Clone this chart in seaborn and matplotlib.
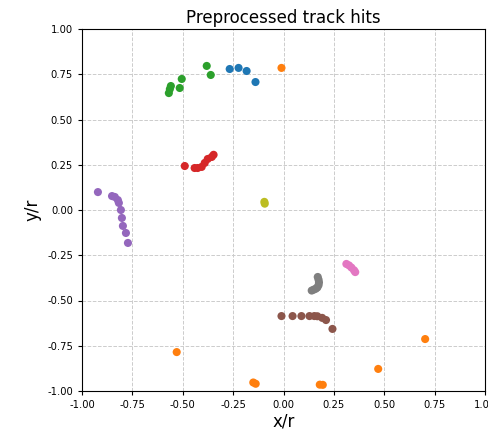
import numpy as np
import pandas as pd
import seaborn as sns
import matplotlib.pyplot as plt

# hit positions per track (x/r, y/r)
track_0_x = [-0.267, -0.223, -0.183, -0.139]
track_0_y = [0.779, 0.785, 0.768, 0.707]
track_1_x = [-0.010, -0.530, -0.150, -0.138, 0.180, 0.195, 0.470, 0.703]
track_1_y = [0.785, -0.785, -0.953, -0.960, -0.965, -0.966, -0.878, -0.713]
track_2_x = [-0.381, -0.361, -0.505, -0.515, -0.559, -0.569, -0.564]
track_2_y = [0.796, 0.746, 0.724, 0.674, 0.685, 0.646, 0.668]
track_3_x = [-0.490, -0.441, -0.426, -0.406, -0.391, -0.376, -0.356, -0.347]
track_3_y = [0.243, 0.232, 0.232, 0.238, 0.260, 0.282, 0.293, 0.305]
track_4_x = [-0.921, -0.851, -0.837, -0.822, -0.817, -0.807, -0.802, -0.797, -0.782, -0.772]
track_4_y = [0.099, 0.077, 0.072, 0.055, 0.039, 0.000, -0.044, -0.088, -0.127, -0.182]
track_5_x = [-0.010, 0.045, 0.089, 0.129, 0.153, 0.168, 0.192, 0.211, 0.243]
track_5_y = [-0.586, -0.586, -0.586, -0.586, -0.586, -0.587, -0.596, -0.608, -0.657]
track_6_x = [0.312, 0.325, 0.337, 0.350, 0.356]
track_6_y = [-0.298, -0.306, -0.318, -0.333, -0.343]
track_7_x = [0.140, 0.150, 0.160, 0.168, 0.174, 0.176, 0.174, 0.170]
track_7_y = [-0.445, -0.440, -0.435, -0.428, -0.415, -0.400, -0.385, -0.370]
track_8_x = [-0.095, -0.093]
track_8_y = [0.045, 0.035]

xs = [track_0_x, track_1_x, track_2_x, track_3_x, track_4_x,
      track_5_x, track_6_x, track_7_x, track_8_x]
ys = [track_0_y, track_1_y, track_2_y, track_3_y, track_4_y,
      track_5_y, track_6_y, track_7_y, track_8_y]

rows = []
for i in range(len(xs)):
    for x, y in zip(xs[i], ys[i]):
        rows.append((i, x, y))
df = pd.DataFrame(rows, columns=["track", "x", "y"])

fig = plt.figure(figsize=(4.88, 4.30), dpi=100)
ax = fig.add_axes([82 / 488, 1 - 391 / 430, 403 / 488, 362 / 430])

sns.scatterplot(data=df, x="x", y="y", hue="track", hue_order=list(range(9)),
                palette="tab10", s=34, linewidth=0, legend=False, ax=ax, zorder=3)

ticks = np.arange(-1, 1.01, 0.25)
ax.set_xlim(-1, 1)
ax.set_ylim(-1, 1)
ax.set_xticks(ticks)
ax.set_yticks(ticks)
ax.set_xticklabels(["%.2f" % v for v in ticks])
ax.set_yticklabels(["%.2f" % v for v in ticks])
ax.tick_params(labelsize=7.2, length=3)
ax.grid(True, linestyle="--", color="#cccccc", linewidth=0.7)
ax.set_axisbelow(True)
ax.set_xlabel("x/r", fontsize=12, labelpad=2)
ax.set_ylabel("y/r", fontsize=12)
ax.set_title("Preprocessed track hits", fontsize=12, pad=4)

plt.savefig("out.png", dpi=100)
